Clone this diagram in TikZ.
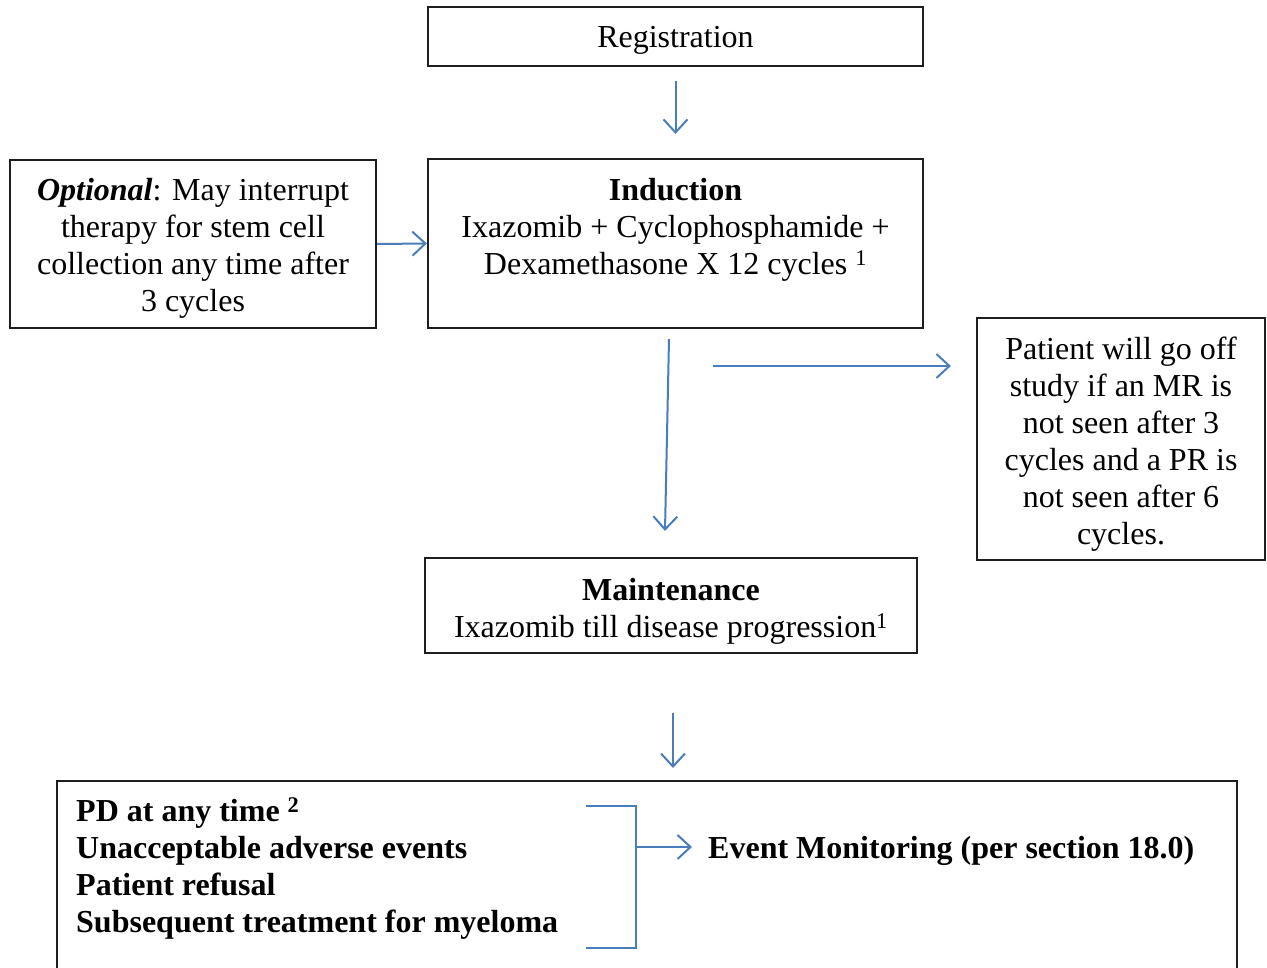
\documentclass[tikz,border=0pt]{standalone}
\usepackage{fontspec}
\setmainfont{Liberation Serif}
\usetikzlibrary{arrows.meta,calc}
\definecolor{arrowblue}{RGB}{74,126,187}
\definecolor{boxline}{RGB}{30,30,30}
\begin{document}
\begin{tikzpicture}[x=1pt,y=-1pt,
  every node/.style={font=\fontsize{32}{37}\selectfont},
  box/.style={draw=boxline,line width=2.2pt,inner sep=0pt},
  txt/.style={inner sep=0pt,align=center},
  conn/.style={draw=arrowblue,line width=2pt,-{Straight Barb[length=13pt,width=24pt,line width=2pt]}},
  plain/.style={draw=arrowblue,line width=2pt}]
\useasboundingbox (0,0) rectangle (1267,968);
\fill[white] (0,0) rectangle (1267,968);
% boxes
\node[box,minimum width=495pt,minimum height=59pt] (reg) at (675.5,36.5) {};
\node[txt] (regt) at (675.5,40) {Registration};
\node[box,minimum width=495pt,minimum height=169pt] (ind) at (675.5,243.5) {};
\node[txt] (indt) at (675.5,230) {\textbf{Induction}\\Ixazomib + Cyclophosphamide +\\Dexamethasone X 12 cycles \textsuperscript{1}};
\node[box,minimum width=366pt,minimum height=168pt] (opt) at (193,244) {};
\node[txt] (optt) at (193,248) {\textbf{\textit{Optional}}: May interrupt\\therapy for stem cell\\collection any time after\\3 cycles};
\node[box,minimum width=288pt,minimum height=242pt] (pat) at (1121,439) {};
\node[txt] (patt) at (1121,444) {Patient will go off\\study if an MR is\\not seen after 3\\cycles and a PR is\\not seen after 6\\cycles.};
\node[box,minimum width=492pt,minimum height=95pt] (mnt) at (671,605.5) {};
\node[txt] (mntt) at (671,611) {\textbf{Maintenance}\\Ixazomib till disease progression\textsuperscript{1}};
\node[box,minimum width=1180pt,minimum height=195pt,anchor=north west] (bot) at (56,780) {};
\node[txt,align=left,anchor=west,font=\fontsize{32}{37}\selectfont\bfseries] (lst) at (76,869) {PD at any time \textsuperscript{2}\\Unacceptable adverse events\\Patient refusal\\Subsequent treatment for myeloma};
\node[txt,anchor=west,font=\fontsize{32}{37}\selectfont\bfseries] (ev) at (708,851) {Event Monitoring (per section 18.0)};
% connectors
\draw[conn,shorten <=14pt,shorten >=24pt] (reg.south) -- (ind.north);
\draw[conn] (opt.east) -- (ind.west);
\draw[conn] ($(ind.south)+(-6.5,10)$) -- ($(mnt.north)+(-6,-26)$);
\coordinate (hs) at (713,366);
\draw[conn,shorten >=25pt] (hs) -- (hs -| pat.west);
\coordinate (ms) at (673,713);
\draw[conn,shorten >=12pt] (ms) -- (ms |- bot.north);
\coordinate (b1) at (586,806);
\coordinate (b2) at (636,806);
\coordinate (b3) at (636,948);
\coordinate (b4) at (586,948);
\coordinate (bm) at (636,847);
\draw[plain] (b1) -- (b2) -- (b3) -- (b4);
\draw[conn,shorten >=16pt] (bm) -- (bm -| ev.west);
\end{tikzpicture}
\end{document}
